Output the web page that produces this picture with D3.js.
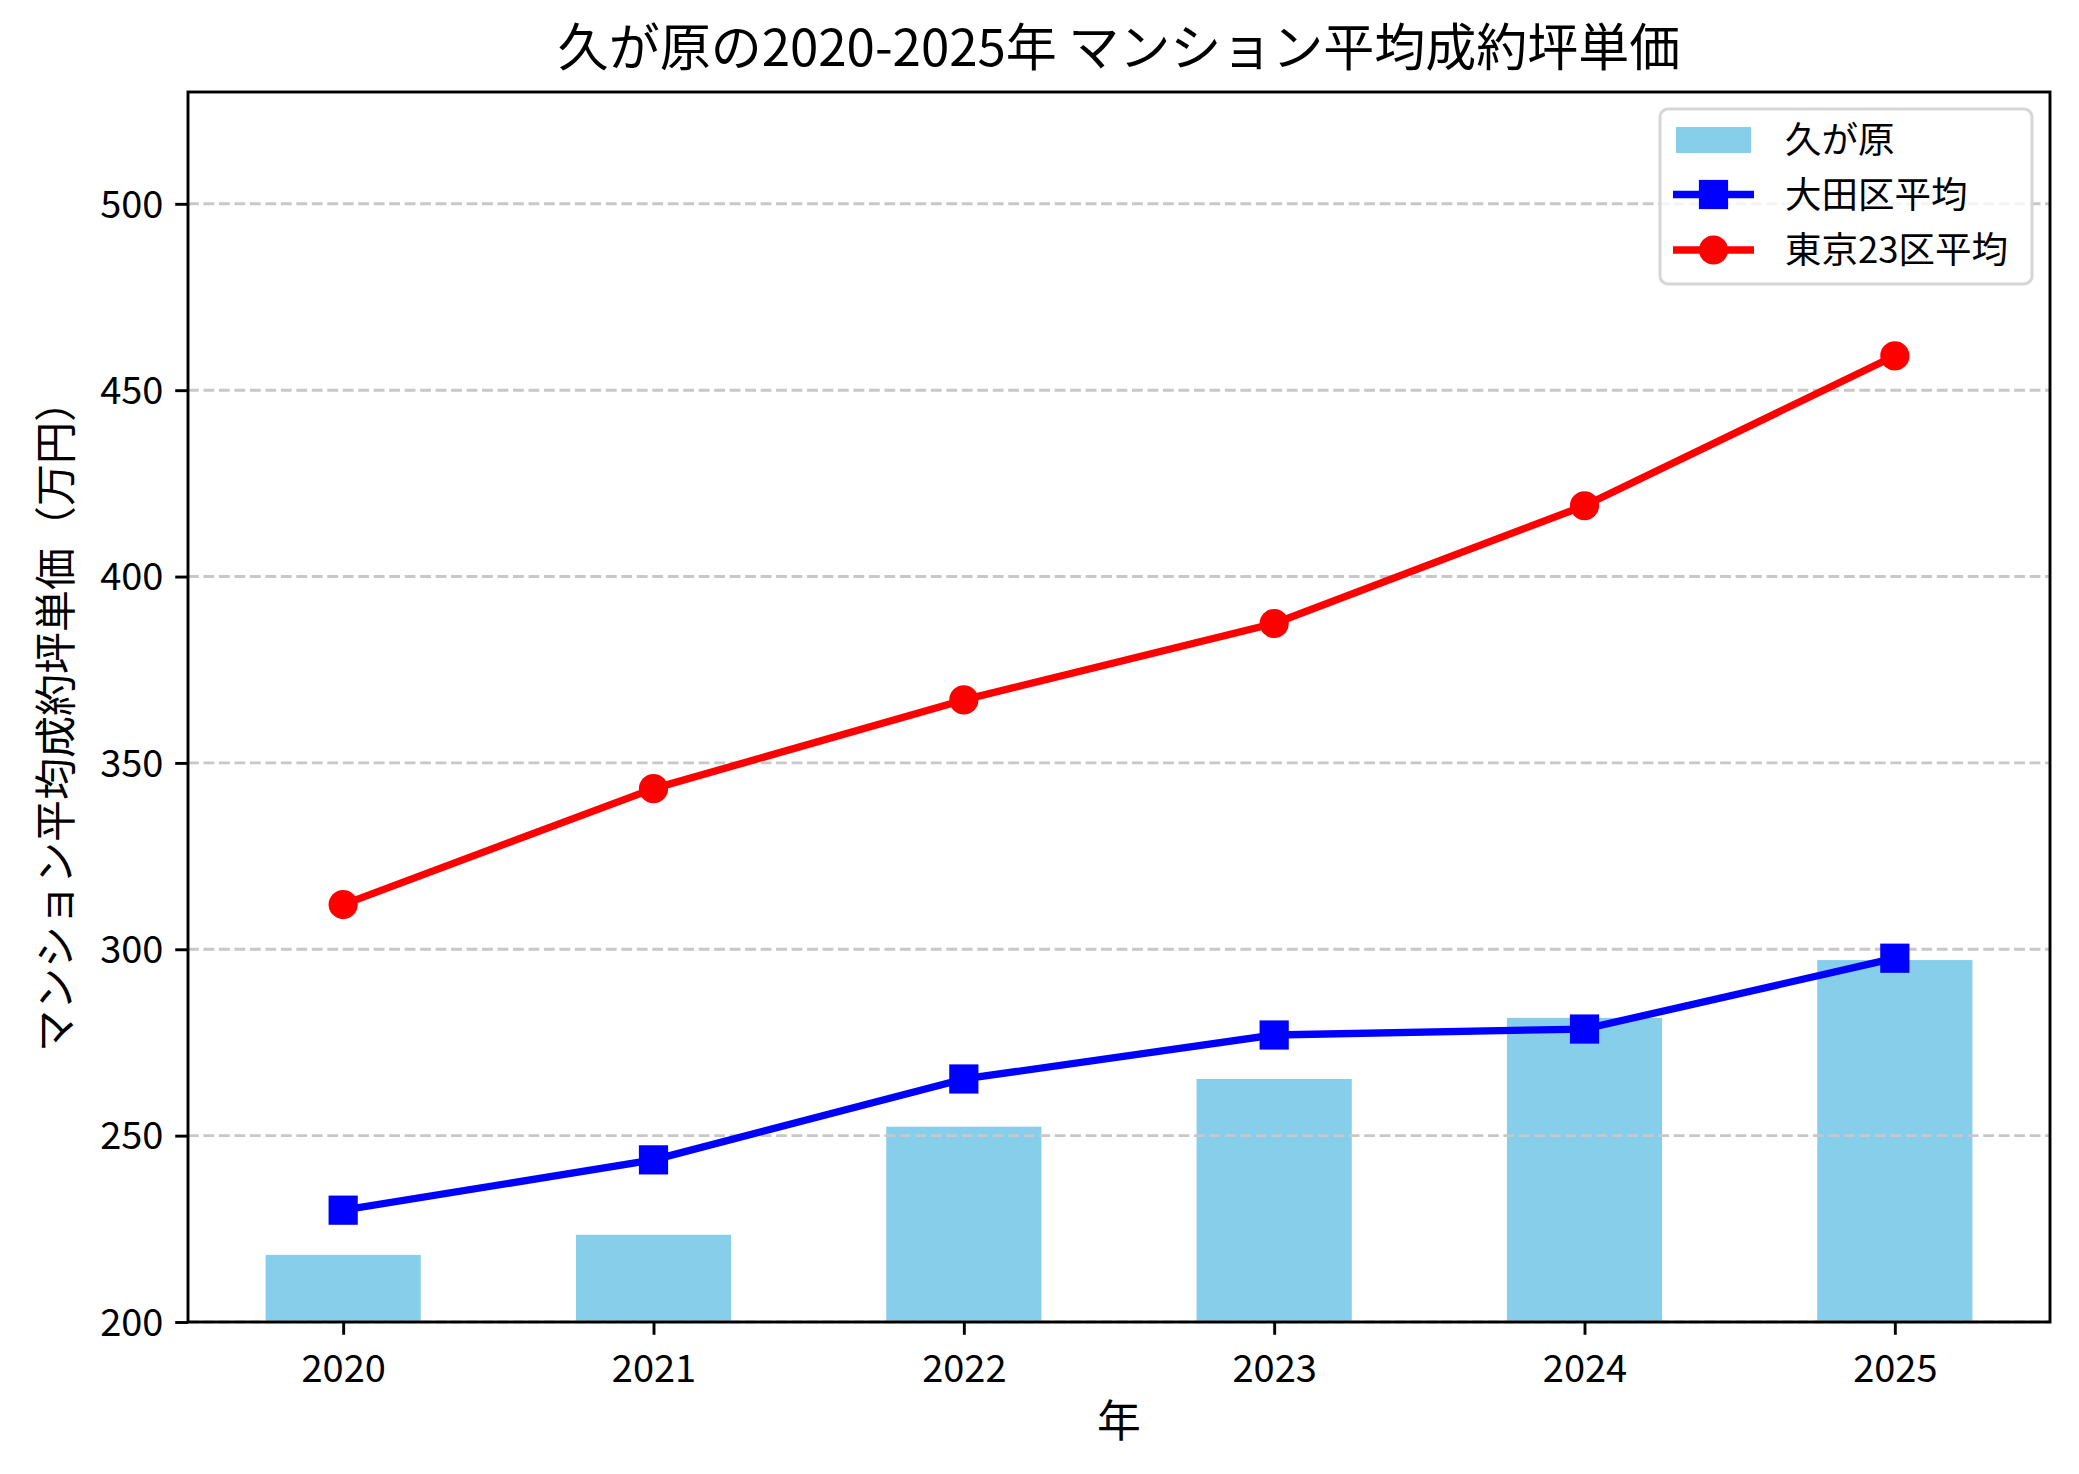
<!DOCTYPE html>
<html>
<head>
<meta charset="utf-8">
<script src="https://cdn.jsdelivr.net/npm/d3@7"></script>
<style>
  html, body { margin: 0; padding: 0; background: #fff; }
  svg { display: block; }
  text { font-family: "Noto Sans CJK JP", "Noto Sans", sans-serif; fill: #000; }
</style>
</head>
<body>
<script>
const years = ["2020", "2021", "2022", "2023", "2024", "2025"];
const kugaharaValues = [218.0, 223.4, 252.4, 265.2, 281.6, 297.1];
const otaValues = [230.0, 243.5, 265.2, 277.0, 278.6, 297.6];
const tokyoValues = [312.0, 343.1, 366.9, 387.4, 419.0, 459.2];
const yTicks = [200, 250, 300, 350, 400, 450, 500];
const seriesNames = ["久が原", "大田区平均", "東京23区平均"];
const titleText = "久が原の2020-2025年 マンション平均成約坪単価";
const xLabelText = "年";
const yLabelText = "マンション平均成約坪単価（万円）";

const W = 2079, H = 1474;
const L = 188, R = 2050, T = 92, B = 1322;
const PT = 3.65;

const svg = d3.select("body").append("svg").attr("width", W).attr("height", H);
svg.append("rect").attr("width", W).attr("height", H).attr("fill", "#fff");

const x = d3.scaleLinear().domain([-0.5, 5.5]).range([L, R]);
const y = d3.scaleLinear().domain([200, 530]).range([B, T]);
const barW = x(0.5) - x(0);

const g = svg.append("g");

// bars
g.selectAll("rect.bar").data(kugaharaValues).join("rect")
  .attr("class", "bar")
  .attr("x", (d, i) => x(i) - barW / 2)
  .attr("width", barW)
  .attr("y", d => y(d))
  .attr("height", d => y(200) - y(d))
  .attr("fill", "#87CEEB");

// grid (above bars, below lines)
g.selectAll("line.grid").data(yTicks).join("line")
  .attr("class", "grid")
  .attr("x1", L).attr("x2", R)
  .attr("y1", d => y(d)).attr("y2", d => y(d))
  .attr("stroke", "#c8c8c8")
  .attr("stroke-width", 0.8 * PT)
  .attr("stroke-dasharray", `${3.7 * 0.8 * PT},${1.6 * 0.8 * PT}`);

// lines
const lineGen = d3.line().x((d, i) => x(i)).y(d => y(d));
g.append("path").datum(otaValues).attr("d", lineGen)
  .attr("fill", "none").attr("stroke", "#0000ff").attr("stroke-width", 2 * PT)
  .attr("stroke-linejoin", "round").attr("stroke-linecap", "square");
const ms = 8 * PT;
g.selectAll("rect.sq").data(otaValues).join("rect")
  .attr("class", "sq")
  .attr("x", (d, i) => x(i) - ms / 2).attr("y", d => y(d) - ms / 2)
  .attr("width", ms).attr("height", ms).attr("fill", "#0000ff");

g.append("path").datum(tokyoValues).attr("d", lineGen)
  .attr("fill", "none").attr("stroke", "#ff0000").attr("stroke-width", 2 * PT)
  .attr("stroke-linejoin", "round").attr("stroke-linecap", "square");
g.selectAll("circle.dot").data(tokyoValues).join("circle")
  .attr("class", "dot")
  .attr("cx", (d, i) => x(i)).attr("cy", d => y(d))
  .attr("r", ms / 2).attr("fill", "#ff0000");

// axes
const tickLen = 3.5 * PT, tickW = 0.8 * PT;
const xAxis = d3.axisBottom(x).tickValues(d3.range(years.length))
  .tickFormat(i => years[i]).tickSize(tickLen).tickPadding(3.5 * PT);
const xg = svg.append("g").attr("transform", `translate(0,${B})`).call(xAxis);
xg.select(".domain").remove();
xg.selectAll("line").attr("stroke", "#000").attr("stroke-width", tickW);
xg.selectAll("text").attr("font-size", 38).attr("font-family", "'Noto Sans CJK JP', sans-serif")
  .attr("dy", null).attr("y", 60).attr("fill", "#000");

const yAxis = d3.axisLeft(y).tickValues(yTicks).tickSize(tickLen).tickPadding(3.5 * PT);
const yg = svg.append("g").attr("transform", `translate(${L},0)`).call(yAxis);
yg.select(".domain").remove();
yg.selectAll("line").attr("stroke", "#000").attr("stroke-width", tickW);
yg.selectAll("text").attr("font-size", 38).attr("font-family", "'Noto Sans CJK JP', sans-serif")
  .attr("x", -(tickLen + 3.5 * PT) + 1).attr("dy", "0.35em").attr("fill", "#000");

// spines
svg.append("rect").attr("x", L).attr("y", T).attr("width", R - L).attr("height", B - T)
  .attr("fill", "none").attr("stroke", "#000").attr("stroke-width", 0.8 * PT);

// title & labels
svg.append("text").attr("x", (L + R) / 2).attr("y", 66).attr("text-anchor", "middle")
  .attr("font-size", 51).text(titleText);
svg.append("text").attr("x", (L + R) / 2).attr("y", 1437).attr("text-anchor", "middle")
  .attr("font-size", 43.8).text(xLabelText);
svg.append("text").attr("transform", `translate(52,${(T + B) / 2 + 9}) rotate(-90)`)
  .attr("text-anchor", "middle").attr("dominant-baseline", "central")
  .attr("font-size", 42).text(yLabelText);

// legend
const lg = svg.append("g");
lg.append("rect").attr("x", 1660).attr("y", 109).attr("width", 372).attr("height", 175)
  .attr("rx", 8).attr("ry", 8)
  .attr("fill", "#fff").attr("fill-opacity", 0.8)
  .attr("stroke", "#d6d6d6").attr("stroke-width", 3);
const rowsY = [140, 194.5, 250];
const hx1 = 1676, hx2 = 1751, hc = (hx1 + hx2) / 2;
lg.append("rect").attr("x", hx1).attr("y", rowsY[0] - 13).attr("width", hx2 - hx1).attr("height", 26)
  .attr("fill", "#87CEEB");
lg.append("line").attr("x1", hx1 - 3).attr("x2", hx2 + 3).attr("y1", rowsY[1]).attr("y2", rowsY[1])
  .attr("stroke", "#0000ff").attr("stroke-width", 2 * PT);
lg.append("rect").attr("x", hc - ms / 2).attr("y", rowsY[1] - ms / 2).attr("width", ms).attr("height", ms)
  .attr("fill", "#0000ff");
lg.append("line").attr("x1", hx1 - 3).attr("x2", hx2 + 3).attr("y1", rowsY[2]).attr("y2", rowsY[2])
  .attr("stroke", "#ff0000").attr("stroke-width", 2 * PT);
lg.append("circle").attr("cx", hc).attr("cy", rowsY[2]).attr("r", ms / 2).attr("fill", "#ff0000");
lg.selectAll("text.lt").data(seriesNames).join("text")
  .attr("class", "lt")
  .attr("x", 1785).attr("y", (d, i) => rowsY[i] + 13)
  .attr("font-size", 36.5).text(d => d);
</script>
</body>
</html>
